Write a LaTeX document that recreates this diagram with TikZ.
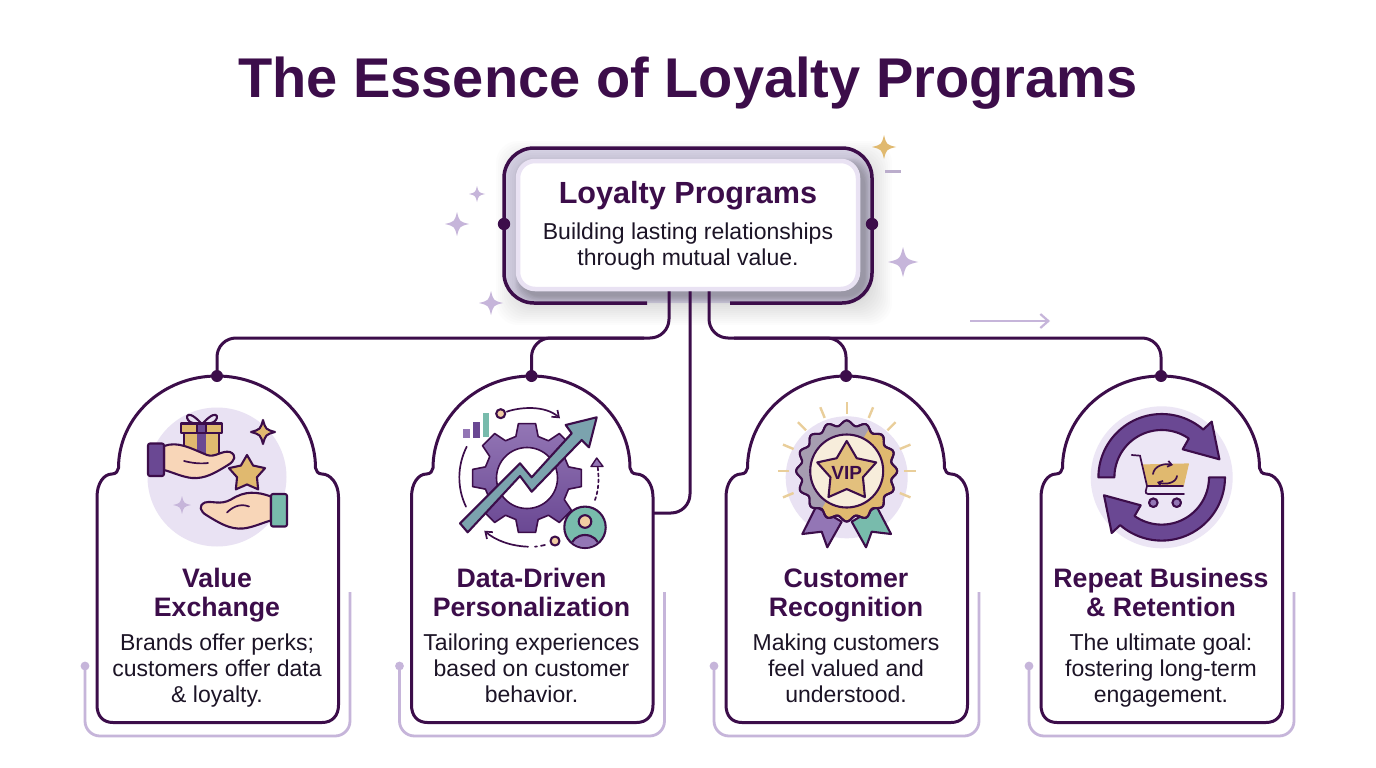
\documentclass[tikz,border=0pt]{standalone}
\usepackage{fontspec}
\setmainfont{Liberation Sans}
\usetikzlibrary{arrows.meta,calc}
\definecolor{ink}{HTML}{3C0D4A}
\definecolor{bodyink}{HTML}{1C1426}
\definecolor{lilac}{HTML}{C6B5DA}
\definecolor{disc}{HTML}{E9E2F3}
\definecolor{band}{HTML}{E4E0F2}
\definecolor{gold}{HTML}{E0B96F}
\definecolor{purp}{HTML}{6A4893}
\definecolor{purpl}{HTML}{9376B5}
\definecolor{teal}{HTML}{78BBAC}
\definecolor{steel}{HTML}{7BA3AE}
\definecolor{skin}{HTML}{F8D6B8}
\tikzset{
  cardline/.style={draw=ink,line width=3pt,fill=white},
  conn/.style={draw=ink,line width=3pt,rounded corners=19pt},
  bracket/.style={draw=lilac,line width=2.8pt,rounded corners=15pt},
  icon/.style={draw=ink,line width=2.1pt,line join=round,line cap=round},
  thin/.style={draw=ink,line width=1.7pt,line cap=round},
  ttl/.style={text=ink,align=center,text depth=0pt,font=\bfseries\fontsize{26.7}{29}\selectfont},
  dsc/.style={text=bodyink,align=center,text depth=0pt,font=\fontsize{23}{26}\selectfont},
}
\newcommand\sparkle[4][]{\fill[#1] (#2,#3-#4) .. controls (#2+.2*#4,#3-.2*#4) .. (#2+#4,#3) .. controls (#2+.2*#4,#3+.2*#4) .. (#2,#3+#4) .. controls (#2-.2*#4,#3+.2*#4) .. (#2-#4,#3) .. controls (#2-.2*#4,#3-.2*#4) .. cycle;}
\newcommand\sparkleline[4]{\draw[icon,fill=#4] (#1,#2-#3) .. controls (#1+.22*#3,#2-.22*#3) .. (#1+#3,#2) .. controls (#1+.22*#3,#2+.22*#3) .. (#1,#2+#3) .. controls (#1-.22*#3,#2+.22*#3) .. (#1-#3,#2) .. controls (#1-.22*#3,#2-.22*#3) .. cycle;}
\newcommand\fivestar[4][]{\draw[icon,#1,shift={(#2,#3)}] (-90:#4) -- (-54:.55*#4) -- (-18:#4) -- (18:.55*#4) -- (54:#4) -- (90:.55*#4) -- (126:#4) -- (162:.55*#4) -- (198:#4) -- (234:.55*#4) -- cycle;}
\newcommand\cardbox[5]{%
  \begin{scope}[shift={(#1,0)}]
    \draw[bracket] (85,666) -- (85,736) -- (350,736) -- (350,592);
    \fill[lilac] (85,666) circle (4.4);
    \path[cardline] (97,497) .. controls (97,483) and (104,474) .. (112,474) .. controls (116,474) and (118,471) .. (118.5,468)
      .. controls (118.5,417) and (163,376) .. (217,376) .. controls (271,376) and (315.5,417) .. (315.5,468)
      .. controls (316,471) and (318,474) .. (322,474) .. controls (330,474) and (338.5,483) .. (338.5,497)
      -- (338.5,705) .. controls (338.5,716) and (332,722.5) .. (322,722.5) -- (113,722.5) .. controls (103,722.5) and (97,716) .. (97,705) -- cycle;
    \coordinate (p#2) at (217,376);
    \node[ttl] (t#2) at (217,592.5) {#3};
    \node[dsc] (d#2) at (217,668) {#4};
    #5
  \end{scope}}
\begin{document}
\begin{tikzpicture}[x=1pt,y=-1pt]
\useasboundingbox (0,0) rectangle (1376,768);
\fill[white] (0,0) rectangle (1376,768);
\node[text=ink,font=\bfseries\fontsize{56}{64}\selectfont] (title) at (688,83) {The Essence of Loyalty Programs};

% hub backing
\fill[rounded corners=30pt,fill=band] (504,148) rectangle (872,303);
\foreach \i in {0,2,...,26}{
  \fill[black,opacity=.011,rounded corners=22pt] (516-\i+6,159-\i+8) rectangle (860+\i+6,291+\i+8);
}
\foreach \i in {0,1,...,6}{
  \fill[black,opacity=.022,rounded corners=18pt] (516-\i+5,159-\i+5) rectangle (860+\i+5,291+\i+5);
}
\draw[draw=ink,line width=3.5pt,rounded corners=30pt] (647,303) -- (504,303) -- (504,148) -- (872,148) -- (872,303) -- (730,303);
\fill[ink] (504,224) circle (6.2) (872,224) circle (6.2);
\node[draw=disc,line width=4.5pt,fill=white,rounded corners=17pt,minimum width=340pt,minimum height=128pt,inner sep=0pt] (hub) at (688,225) {};
\node[text=ink,font=\bfseries\fontsize{30.6}{34}\selectfont] (hubt) at (688,196) {Loyalty Programs};
\node[dsc] (hubd) at (688,244) {Building lasting relationships\\through mutual value.};

% sparkles
\sparkle[lilac]{477}{194}{8}
\sparkle[lilac]{457}{224}{12}
\sparkle[lilac]{491}{303}{12}
\sparkle[lilac]{903}{262}{15}
\sparkle[gold]{884}{147}{12}
\draw[draw=lilac!85!gray,line width=3pt] (885,171) -- (901,171);
\coordinate (fa) at (970,321); \coordinate (fb) at (1050,321);
\draw[draw=lilac,line width=2.2pt,-{Straight Barb[length=8pt,width=14pt]}] (fa) -- (fb);

% Card 1
\cardbox{0}{1}{Value\\Exchange}{Brands offer perks;\\customers offer data\\\& loyalty.}{%
  \fill[disc] (217,477) circle (69.5);
  % gift
  \draw[icon] (201,423) .. controls (184,405) and (184,422) .. (193,423) (203,423) .. controls (220,405) and (220,422) .. (211,423);
  \draw[icon,fill=gold] (184,433) rectangle (219,462);
  \fill[purp] (197,433) rectangle (206,460);
  \draw[icon,fill=gold] (181,423.5) rectangle (222,433);
  \draw[icon,fill=purp] (197,423.5) rectangle (206,433);
  % hand
  \begin{scope}
    \draw[icon,fill=skin] (164,446) .. controls (178,441) and (190,448) .. (207,455) .. controls (215,458) and (222,450) .. (230,452) .. controls (237,455) and (235,461) .. (228,465) .. controls (215,473) and (205,479) .. (192,478) .. controls (182,477) and (172,472) .. (164,470) -- cycle;
    \draw[thin] (184,461) .. controls (192,463) and (200,464) .. (208,463);
    \draw[icon,fill=purp,rounded corners=2pt] (148,443.5) rectangle (164,476);
  \end{scope}
  \begin{scope}[shift={(435,50.5)},xscale=-1]
    \draw[icon,fill=skin] (164,446) .. controls (178,441) and (190,440) .. (204,449) .. controls (215,455) and (222,450) .. (230,452) .. controls (237,455) and (235,461) .. (228,465) .. controls (215,473) and (205,479) .. (192,478) .. controls (182,477) and (172,472) .. (164,470) -- cycle;
    \draw[thin] (186,456) .. controls (196,452) and (204,458) .. (208,462);
    \draw[icon,fill=teal,rounded corners=2pt] (148,443.5) rectangle (164,476);
  \end{scope}
  \fivestar[fill=gold]{247}{474}{19}
  \sparkleline{263}{432}{12}{gold}
  \sparkle[lilac]{182}{505}{9}
}
% Card 2
\cardbox{314.5}{2}{Data-Driven\\Personalization}{Tailoring experiences\\based on customer\\behavior.}{}
\begin{scope}
  \draw[icon,top color=purpl,bottom color=purp,even odd rule,line width=1.6pt] ([shift={(527,478)}]-105:43)
    \foreach \a in {-90,-45,...,225}{ -- ([shift={(527,478)}]\a-15:43) -- ([shift={(527,478)}]\a-9:55) -- ([shift={(527,478)}]\a+9:55) -- ([shift={(527,478)}]\a+15:43) } -- cycle
    (527,478) circle (30.5);
  \fill[purpl] (463.3,429) rectangle (470,438.3);
  \fill[purp] (473.3,421.7) rectangle (480,438.3);
  \fill[teal] (482.7,413.3) rectangle (489.3,437.3);
  \draw[icon,fill=steel] (460,523.3) -- (520,463.3) -- (531.7,477.3) -- (571.7,433.3) -- (565.7,425) -- (596.7,417.3) -- (589,447.3) -- (581.7,440) -- (531.7,491.7) -- (520,476) -- (467.7,532.3) -- cycle;
  \draw[icon,fill=skin!70!gold] (500.7,413.7) circle (4.5);
  \draw[thin,-{Straight Barb[length=6pt,width=9pt]}] (506.7,411.7) .. controls (520,407) and (545,405) .. (560,418.3);
  \draw[thin] (466.7,446.7) .. controls (457,466) and (457,488) .. (466,506.7);
  \draw[thin,-{Straight Barb[length=6pt,width=9pt]}] (528,546.7) .. controls (510,546) and (495,540) .. (484.3,530.7);
  \draw[thin] (535,546.7) -- (537,546.4) (541,545.8) -- (545,545);
  \draw[icon,fill=skin!70!gold] (555,541) circle (4.5);
  \draw[thin,dashed] (595,500) .. controls (599,489) and (599,478) .. (597.7,466.7);
  \draw[icon,fill=purpl,line width=1.4pt] (596.7,458) -- (603,466.5) -- (591,466.5) -- cycle;
  \draw[icon,fill=teal] (585,527.3) circle (20.7);
  \begin{scope}
    \clip (585,527.3) circle (19.7);
    \draw[icon,fill=purpl] (585,547) ellipse (14 and 12);
  \end{scope}
  \draw[icon,fill=skin!70!gold] (585,521.5) circle (6.3);
\end{scope}
% Card 3
\cardbox{629}{3}{Customer\\Recognition}{Making customers\\feel valued and\\understood.}{}
\begin{scope}
  \fill[disc] (846.7,477.3) circle (61);
  \foreach \a in {-22.5,0,...,202.5}{
    \draw[draw=gold!70!white,line width=2.4pt] ([shift={(846.7,471)}]\a-90-90:57.5) -- ([shift={(846.7,471)}]\a-90-90:69);
  }
  \draw[icon,fill=purpl] (816,506.7) -- (841.7,521.7) -- (827.3,547.3) -- (821.7,531.7) -- (802.3,534) -- cycle;
  \draw[icon,fill=teal] (876.7,506.7) -- (851.7,521.7) -- (866,547.3) -- (871.7,531.7) -- (891,534) -- cycle;
  \path[icon,fill=gold] plot[domain=0:360,samples=181,smooth] ([shift={(846.7,471)}]\x:{48+2.5*cos(16*\x)}) -- cycle;
  \begin{scope}
    \clip (790,410) -- (880,410) -- (815,520) -- (790,520) -- cycle;
    \fill[gray!45!lilac] plot[domain=0:360,samples=181,smooth] ([shift={(846.7,471)}]\x:{48+2.5*cos(16*\x)}) -- cycle;
  \end{scope}
  \draw[icon] plot[domain=0:360,samples=181,smooth] ([shift={(846.7,471)}]\x:{48+2.5*cos(16*\x)}) -- cycle;
  \draw[icon,fill=gold!25!white] (846.7,471) circle (36.5);
  \fivestar[fill=gold!90!white]{846.7}{472}{31}
  \node[text=ink,font=\bfseries\fontsize{19}{22}\selectfont] (vip) at (846.7,473) {VIP};
\end{scope}
% Card 4
\cardbox{944}{4}{Repeat Business\\\& Retention}{The ultimate goal:\\fostering long-term\\engagement.}{}
\begin{scope}[shift={(1161.7,477.3)}]
  \fill[disc!85!white] (0,0) circle (71);
  \foreach \r in {0,180}{
    \begin{scope}[rotate=\r]
      \draw[icon,fill=purp] plot[domain=180:311,samples=40] (\x:63.3) -- (50,-55.7) -- (57.7,-18) -- (21,-28) -- plot[domain=305:180,samples=40] (\x:47.3) -- cycle;
    \end{scope}
  }
\end{scope}
\begin{scope}
  \draw[icon,fill=gold,line width=1.2pt,draw=gold] (1143.3,465) -- (1188.3,464) -- (1183.3,485.7) -- (1147.3,485.7) -- cycle;
  \draw[thin] (1131.7,455) -- (1140,455.7) -- (1147,486) -- (1183,486);
  \draw[thin,rounded corners=3pt] (1147,486) -- (1145,494) -- (1184,494);
  \draw[icon,fill=purpl] (1153.3,502.7) circle (4.3) (1176.7,502.7) circle (4.3);
  \draw[thin,-{Straight Barb[length=4pt,width=6pt]}] (1153,474) .. controls (1154,466) and (1164,463) .. (1173,465);
  \draw[thin,-{Straight Barb[length=4pt,width=6pt]}] (1177,476) .. controls (1176,483) and (1166,485) .. (1157,482);
\end{scope}

% connectors
\coordinate (bus) at (690,338);
\coordinate (hl) at ([xshift=-19pt]hub.south);
\coordinate (hr) at ([xshift=21pt]hub.south);
\coordinate (hc) at ([xshift=2pt]hub.south);
\coordinate (c2e) at (653,513);
\draw[conn] (hl) -- (hl |- bus) -| (p1);
\draw[conn] ($(hl |- bus)+(-25,0)$) -- ($(p2)+(40,-38)$) -| (p2);
\draw[conn] (hr) -- (hr |- bus) -| (p4);
\draw[conn] ($(hr |- bus)+(25,0)$) -- ($(p3)+(-40,-38)$) -| (p3);
\draw[conn] (hc) |- (c2e);
\foreach \n in {p1,p2,p3,p4}{\fill[ink] (\n) circle (6);}
\end{tikzpicture}
\end{document}
